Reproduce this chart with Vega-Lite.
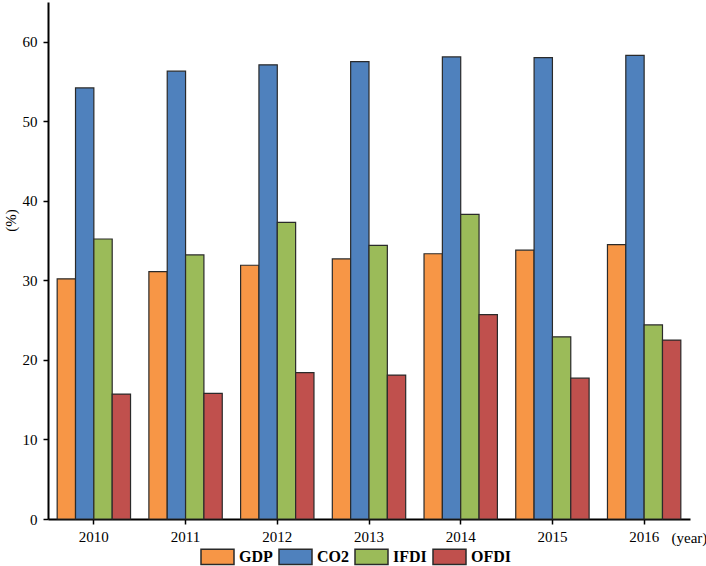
{
  "$schema": "https://vega.github.io/schema/vega-lite/v6.json",
  "autosize": {"type": "none"},
  "width": 642,
  "height": 517,
  "padding": {"left": 48, "top": 2, "right": 16, "bottom": 47},
  "background": "white",
  "config": {
    "view": {"stroke": null},
    "font": "Liberation Serif",
    "axis": {"grid": false, "domainColor": "black", "domainWidth": 2, "tickColor": "black", "tickWidth": 1.5, "tickSize": 5, "labelFont": "Liberation Serif", "labelFontSize": 15, "labelColor": "black", "titleFont": "Liberation Serif", "titleFontWeight": "normal", "titleColor": "black"}
  },
  "data": {
    "values": [
      {"year": "2010", "series": "GDP", "value": 30.2},
      {"year": "2010", "series": "CO2", "value": 54.2},
      {"year": "2010", "series": "IFDI", "value": 35.2},
      {"year": "2010", "series": "OFDI", "value": 15.7},
      {"year": "2011", "series": "GDP", "value": 31.1},
      {"year": "2011", "series": "CO2", "value": 56.3},
      {"year": "2011", "series": "IFDI", "value": 33.2},
      {"year": "2011", "series": "OFDI", "value": 15.8},
      {"year": "2012", "series": "GDP", "value": 31.9},
      {"year": "2012", "series": "CO2", "value": 57.1},
      {"year": "2012", "series": "IFDI", "value": 37.3},
      {"year": "2012", "series": "OFDI", "value": 18.4},
      {"year": "2013", "series": "GDP", "value": 32.7},
      {"year": "2013", "series": "CO2", "value": 57.5},
      {"year": "2013", "series": "IFDI", "value": 34.4},
      {"year": "2013", "series": "OFDI", "value": 18.1},
      {"year": "2014", "series": "GDP", "value": 33.35},
      {"year": "2014", "series": "CO2", "value": 58.1},
      {"year": "2014", "series": "IFDI", "value": 38.3},
      {"year": "2014", "series": "OFDI", "value": 25.7},
      {"year": "2015", "series": "GDP", "value": 33.8},
      {"year": "2015", "series": "CO2", "value": 58.0},
      {"year": "2015", "series": "IFDI", "value": 22.9},
      {"year": "2015", "series": "OFDI", "value": 17.7},
      {"year": "2016", "series": "GDP", "value": 34.5},
      {"year": "2016", "series": "CO2", "value": 58.3},
      {"year": "2016", "series": "IFDI", "value": 24.4},
      {"year": "2016", "series": "OFDI", "value": 22.5}
    ]
  },
  "mark": {"type": "bar", "stroke": "#2a2a2a", "strokeWidth": 1.2},
  "encoding": {
    "x": {
      "field": "year", "type": "nominal",
      "scale": {"paddingInner": 0.2, "paddingOuter": 0.1},
      "axis": {"labelAngle": 0, "labelPadding": 5, "title": "(year)", "titleFontSize": 15, "titleAngle": 0, "titleAlign": "left", "titleBaseline": "alphabetic", "titleX": 623, "titleY": 23}
    },
    "xOffset": {"field": "series", "type": "nominal", "sort": ["GDP", "CO2", "IFDI", "OFDI"], "scale": {"paddingInner": 0, "paddingOuter": 0}},
    "y": {
      "field": "value", "type": "quantitative",
      "scale": {"domain": [0, 65], "nice": false},
      "axis": {"values": [0, 10, 20, 30, 40, 50, 60], "labelPadding": 6, "title": "(%)", "titleFontSize": 15, "titleAngle": 270, "titleAlign": "center", "titleBaseline": "middle", "titleX": -38, "titleY": 218}
    },
    "color": {
      "field": "series", "type": "nominal",
      "sort": ["GDP", "CO2", "IFDI", "OFDI"],
      "scale": {"domain": ["GDP", "CO2", "IFDI", "OFDI"], "range": ["#F79646", "#4F81BD", "#9BBB59", "#C0504D"]},
      "legend": {
        "orient": "none", "direction": "horizontal", "legendX": 152, "legendY": 537, "title": null, "padding": 0,
        "symbolType": "M-1,-0.46H1V0.46H-1Z", "symbolSize": 1089, "symbolStrokeColor": "#2a2a2a", "symbolStrokeWidth": 1.5, "symbolOpacity": 1,
        "labelFont": "Liberation Serif", "labelFontWeight": "bold", "labelFontSize": 16, "labelColor": "black", "labelOffset": 4, "columnPadding": 3
      }
    }
  }
}
